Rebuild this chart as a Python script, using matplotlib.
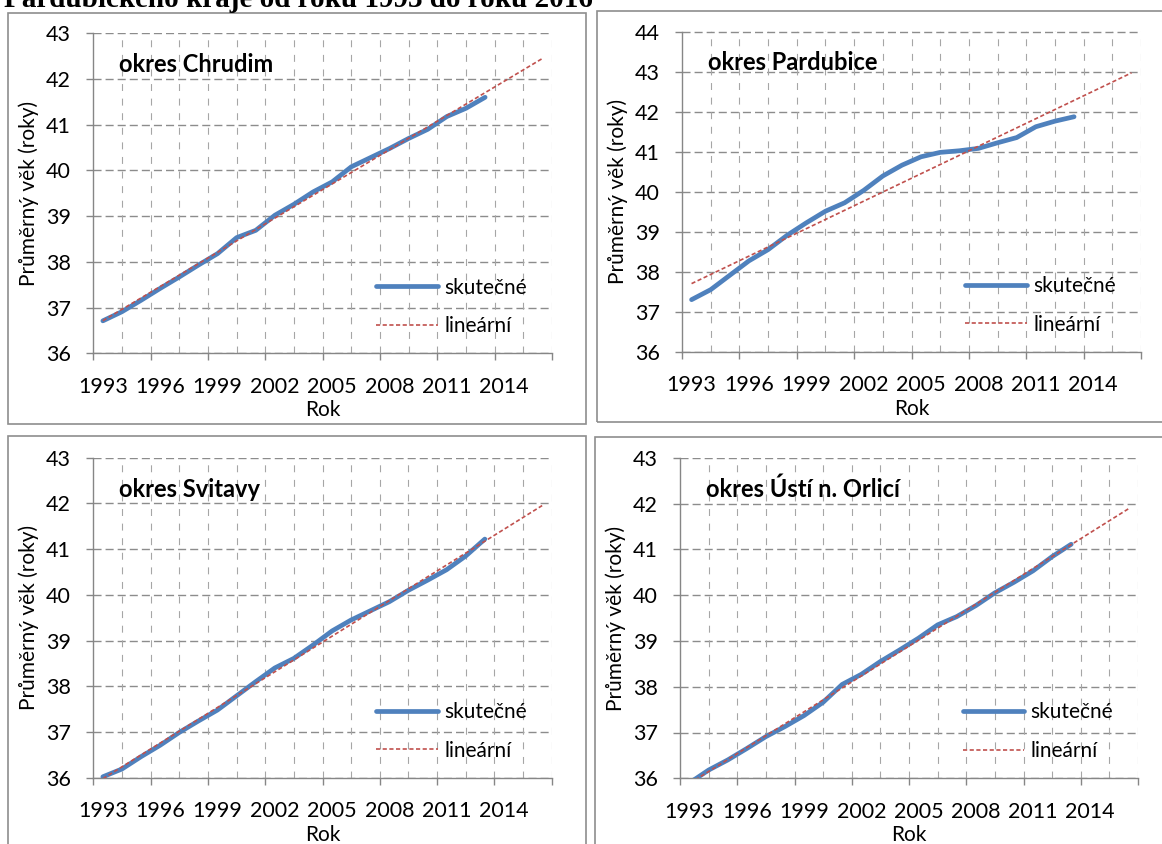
import numpy as np
import matplotlib.pyplot as plt
from matplotlib.patches import Rectangle

plt.rcParams['font.family'] = ['Lato', 'DejaVu Sans']
plt.rcParams['lines.scale_dashes'] = False

# categories (Excel category axis) and values
years = list(range(1993, 2017))
label_years = years[::3]

chrudim = [36.71, 36.91, 37.16, 37.42, 37.67, 37.93, 38.18, 38.53, 38.69, 39.02, 39.26,
           39.53, 39.75, 40.08, 40.28, 40.48, 40.70, 40.90, 41.18, 41.36, 41.60]
pardubice = [37.30, 37.55, 37.91, 38.27, 38.55, 38.91, 39.22, 39.51, 39.72, 40.03, 40.39,
             40.66, 40.87, 40.98, 41.02, 41.08, 41.22, 41.35, 41.62, 41.76, 41.87]
svitavy = [36.02, 36.19, 36.46, 36.71, 36.99, 37.24, 37.48, 37.79, 38.10, 38.40, 38.61,
           38.90, 39.21, 39.45, 39.65, 39.85, 40.10, 40.32, 40.55, 40.85, 41.22]
usti = [35.90, 36.18, 36.40, 36.65, 36.91, 37.13, 37.37, 37.66, 38.05, 38.27, 38.55,
        38.80, 39.06, 39.35, 39.53, 39.77, 40.05, 40.28, 40.53, 40.84, 41.11]

W, H = 1162, 844
BLUE = '#4f81bd'
RED = '#c0504d'
GRID = '#8c8c8c'
AXIS = '#868686'


def px_rect(x0, y0, x1, y1):
    """Pixel box (top-left origin) -> figure fraction rect."""
    return [x0 / W, 1 - y1 / H, (x1 - x0) / W, (y1 - y0) / H]


panels = [
    {'title': 'okres Chrudim', 'data': chrudim, 'ymax': 43,
     'axes': (93.3, 33.3, 552, 353.3), 'frame': (8.3, 12.7, 586, 424)},
    {'title': 'okres Pardubice', 'data': pardubice, 'ymax': 44,
     'axes': (682, 31.5, 1141, 351.7), 'frame': (596.7, 11, 1180, 422)},
    {'title': 'okres Svitavy', 'data': svitavy, 'ymax': 43,
     'axes': (93.3, 457.7, 551.7, 777.7), 'frame': (8.3, 436, 586, 870)},
    {'title': 'okres Ústí n. Orlicí', 'data': usti, 'ymax': 43,
     'axes': (680, 457.7, 1138, 778.3), 'frame': (595, 436.7, 1180, 870)},
]

fig = plt.figure(figsize=(W / 100, H / 100), dpi=100)

# text of the document above the charts (cut off at the top)
fig.text(4 / W, 1 - 7 / H, 'Pardubického kraje od roku 1993 do roku 2016',
         family='Liberation Serif', fontweight='bold', fontsize=21,
         ha='left', va='baseline')

for p in panels:
    # chart area border
    x0, y0, x1, y1 = p['frame']
    fig.patches.append(Rectangle((x0 / W, 1 - y1 / H), (x1 - x0) / W, (y1 - y0) / H,
                                 transform=fig.transFigure, fill=False,
                                 edgecolor='#8e8e8e', linewidth=1.2))

    ax = fig.add_axes(px_rect(*p['axes']))
    n_cat = len(years)
    x = np.arange(len(p['data']))
    vals = np.array(p['data'])

    # linear trend, forecast to the end of the category axis
    k, q = np.polyfit(x, vals, 1)
    xt = np.arange(n_cat)

    line_real, = ax.plot(x, vals, color=BLUE, linewidth=3.4,
                         solid_capstyle='round', solid_joinstyle='round',
                         zorder=3, label='skutečné')
    line_lin, = ax.plot(xt, k * xt + q, color=RED, linewidth=1.2,
                        linestyle=(0, (3.0, 1.8)), zorder=4, label='lineární')

    ax.set_xlim(-0.5, n_cat - 0.5)
    ax.set_ylim(36, p['ymax'])

    # vertical dashed gridlines every 1.5 categories
    for gx in np.arange(-0.5, n_cat, 1.5)[1:]:
        ax.axvline(gx, color='#a6a6a6', linewidth=0.8,
                   linestyle=(0, (5.0, 5.5)), zorder=1)

    ax.set_yticks(range(36, p['ymax'] + 1))
    ax.yaxis.grid(True, color=GRID, linewidth=1.0, linestyle=(0, (5.8, 2.9)))
    ax.set_axisbelow(True)

    ax.set_xticks(np.arange(-0.5, n_cat, 3))
    ax.set_xticklabels([])
    ax.set_xticks([years.index(yy) for yy in label_years], minor=True)
    ax.set_xticklabels([str(yy) for yy in label_years], minor=True)
    ax.tick_params(axis='x', which='major', direction='out', length=5, width=1.0, color=AXIS)
    ax.tick_params(axis='x', which='minor', length=0, pad=17, labelsize=15.5)
    ax.tick_params(axis='y', direction='out', length=5, width=1.0, color=AXIS,
                   pad=11, labelsize=15.5)

    for side in ('top', 'right'):
        ax.spines[side].set_visible(False)
    for side in ('left', 'bottom'):
        ax.spines[side].set_color(AXIS)
        ax.spines[side].set_linewidth(1.0)

    ax.set_xlabel('Rok', fontsize=15, labelpad=2.5)
    ax.set_ylabel('Průměrný věk (roky)', fontsize=15)
    ax.yaxis.set_label_coords(-0.118, 0.5)

    ax.text(0.057, 0.902, p['title'], transform=ax.transAxes, fontsize=17,
            fontweight='bold', ha='left', va='center', zorder=5)

    ax.legend(handles=[line_real, line_lin], loc='center left',
              bbox_to_anchor=(0.617, 0.145), frameon=False, fontsize=15,
              handlelength=2.97, handletextpad=0.3, labelspacing=0.9,
              borderpad=0, borderaxespad=0)

fig.savefig('out.png', dpi=100)
